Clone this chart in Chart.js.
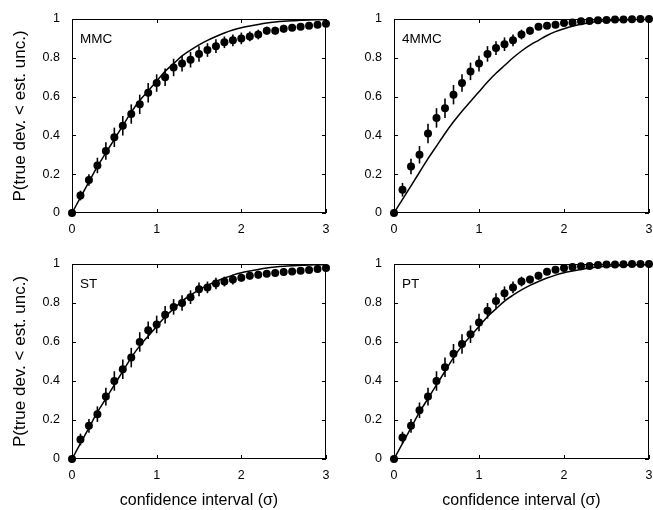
<!DOCTYPE html>
<html>
<head>
<meta charset="utf-8">
<script src="https://cdn.jsdelivr.net/npm/chart.js@4/dist/chart.umd.min.js"></script>
<style>
  body { margin: 0; background: #fff; }
  #wrap { position: relative; width: 653px; height: 510px; }
  canvas { position: absolute; }
</style>
</head>
<body>
<div id="wrap">
  <canvas id="c1" width="330" height="245" style="left:0;top:0"></canvas>
  <canvas id="c2" width="320" height="245" style="left:333px;top:0"></canvas>
  <canvas id="c3" width="330" height="265" style="left:0;top:245px"></canvas>
  <canvas id="c4" width="320" height="265" style="left:333px;top:245px"></canvas>
</div>
<script>
// confidence interval in units of sigma
const sigma = [0, 0.1, 0.2, 0.3, 0.4, 0.5, 0.6, 0.7, 0.8, 0.9, 1.0,
  1.1, 1.2, 1.3, 1.4, 1.5, 1.6, 1.7, 1.8, 1.9, 2.0,
  2.1, 2.2, 2.3, 2.4, 2.5, 2.6, 2.7, 2.8, 2.9, 3.0];

const xTicks = [0, 1, 2, 3];
const yTicks = [0, 0.2, 0.4, 0.6, 0.8, 1];

// expected curves
const gaussCurve = [0, 0.08, 0.16, 0.24, 0.31, 0.38, 0.45, 0.52, 0.58, 0.63, 0.68,
  0.73, 0.77, 0.81, 0.84, 0.867, 0.89, 0.91, 0.928, 0.943, 0.955,
  0.964, 0.972, 0.979, 0.984, 0.988, 0.991, 0.993, 0.995, 0.996, 0.997];
const fourCurve = [0, 0.07, 0.14, 0.21, 0.28, 0.345, 0.41, 0.47, 0.525, 0.575, 0.625,
  0.675, 0.72, 0.76, 0.80, 0.835, 0.865, 0.89, 0.915, 0.935, 0.95,
  0.963, 0.973, 0.981, 0.987, 0.991, 0.994, 0.996, 0.998, 0.999, 1.0];

// measured fractions and their error bars
const mmcP = [0, 0.09, 0.17, 0.245, 0.32, 0.39, 0.45, 0.51, 0.56, 0.62, 0.67,
  0.70, 0.75, 0.77, 0.79, 0.82, 0.84, 0.86, 0.88, 0.89, 0.90,
  0.91, 0.92, 0.94, 0.94, 0.95, 0.955, 0.96, 0.965, 0.97, 0.975];
const mmcErr = [0, 0.025, 0.03, 0.04, 0.045, 0.05, 0.05, 0.05, 0.05, 0.05, 0.045,
  0.045, 0.045, 0.04, 0.04, 0.04, 0.035, 0.035, 0.03, 0.03, 0.03,
  0.025, 0.025, 0.02, 0.02, 0.02, 0.015, 0.015, 0.015, 0.01, 0.01];

const fourP = [0, 0.12, 0.24, 0.30, 0.41, 0.49, 0.54, 0.61, 0.67, 0.73, 0.77,
  0.82, 0.85, 0.87, 0.89, 0.92, 0.94, 0.96, 0.965, 0.97, 0.98,
  0.982, 0.988, 0.99, 0.993, 0.995, 0.997, 0.998, 0.999, 1.0, 1.0];
const fourErr = [0, 0.035, 0.04, 0.045, 0.05, 0.05, 0.05, 0.05, 0.045, 0.045, 0.04,
  0.04, 0.035, 0.035, 0.03, 0.025, 0.02, 0.015, 0.015, 0.01, 0.01,
  0.01, 0.008, 0.005, 0.005, 0.005, 0.003, 0.003, 0.002, 0.002, 0.002];

const stP = [0, 0.10, 0.17, 0.23, 0.32, 0.40, 0.46, 0.52, 0.60, 0.66, 0.69,
  0.74, 0.78, 0.80, 0.83, 0.87, 0.88, 0.90, 0.91, 0.92, 0.93,
  0.94, 0.945, 0.95, 0.954, 0.959, 0.962, 0.966, 0.969, 0.974, 0.98];
const stErr = [0, 0.03, 0.035, 0.04, 0.045, 0.05, 0.05, 0.05, 0.05, 0.045, 0.045,
  0.045, 0.04, 0.04, 0.035, 0.035, 0.03, 0.03, 0.025, 0.025, 0.02,
  0.02, 0.02, 0.015, 0.015, 0.015, 0.01, 0.01, 0.01, 0.01, 0.01];

const ptP = [0, 0.11, 0.17, 0.25, 0.32, 0.40, 0.47, 0.54, 0.59, 0.64, 0.70,
  0.76, 0.81, 0.85, 0.88, 0.91, 0.92, 0.94, 0.96, 0.97, 0.98,
  0.985, 0.988, 0.99, 0.995, 0.997, 0.998, 0.999, 1.0, 1.0, 1.0];
const ptErr = [0, 0.03, 0.035, 0.04, 0.045, 0.05, 0.05, 0.05, 0.05, 0.045, 0.045,
  0.04, 0.04, 0.035, 0.03, 0.025, 0.02, 0.02, 0.015, 0.01, 0.01,
  0.008, 0.005, 0.005, 0.004, 0.003, 0.002, 0.002, 0.001, 0.001, 0.001];

const FONT = '"Liberation Sans", Arial, Helvetica, sans-serif';

// box around the plot with small inward ticks on all sides, plus the panel name
const framePlugin = {
  id: 'frame',
  afterDraw(chart, args, opts) {
    const { ctx, chartArea: a, scales: { x, y } } = chart;
    ctx.save();
    ctx.strokeStyle = '#000';
    ctx.lineWidth = 1;
    ctx.strokeRect(a.left + 0.5, a.top + 0.5, a.width - 1, a.height - 1);
    ctx.beginPath();
    xTicks.forEach(v => {
      const px = Math.round(x.getPixelForValue(v)) + 0.5;
      ctx.moveTo(px, a.bottom); ctx.lineTo(px, a.bottom - 4);
      ctx.moveTo(px, a.top); ctx.lineTo(px, a.top + 4);
    });
    yTicks.forEach(v => {
      const py = Math.round(y.getPixelForValue(v)) + 0.5;
      ctx.moveTo(a.left, py); ctx.lineTo(a.left + 4, py);
      ctx.moveTo(a.right, py); ctx.lineTo(a.right - 4, py);
    });
    ctx.stroke();
    ctx.fillStyle = '#000';
    ctx.font = '13.5px ' + FONT;
    ctx.textBaseline = 'alphabetic';
    ctx.fillText(opts.text, a.left + 8, a.top + 24);
    ctx.restore();
  }
};

// vertical error bars, drawn through the chart scales
const errorBarPlugin = {
  id: 'errorBars',
  afterDatasetsDraw(chart) {
    const { ctx, scales: { x, y } } = chart;
    ctx.save();
    ctx.strokeStyle = '#000';
    ctx.lineWidth = 1.6;
    chart.data.datasets.forEach(ds => {
      if (!ds.errors) return;
      ds.data.forEach((p, i) => {
        const e = ds.errors[i];
        if (!e) return;
        const px = x.getPixelForValue(p.x);
        ctx.beginPath();
        ctx.moveTo(px, y.getPixelForValue(p.y - e));
        ctx.lineTo(px, y.getPixelForValue(Math.min(p.y + e, 1.01)));
        ctx.stroke();
      });
    });
    ctx.restore();
  }
};

function makePanel(id, name, curve, pts, errs, opt) {
  const toXY = arr => arr.map((v, i) => ({ x: sigma[i], y: v }));
  const canvas = document.getElementById(id);
  return new Chart(canvas, {
    type: 'scatter',
    data: {
      datasets: [
        {
          data: toXY(curve),
          showLine: true,
          borderColor: '#000',
          borderWidth: 1.5,
          pointRadius: 0,
          cubicInterpolationMode: 'monotone',
          order: 2
        },
        {
          data: toXY(pts),
          errors: errs,
          showLine: false,
          pointRadius: 4,
          pointHoverRadius: 4,
          backgroundColor: '#000',
          borderColor: '#000',
          borderWidth: 0,
          clip: false,
          order: 1
        }
      ]
    },
    options: {
      responsive: false,
      animation: false,
      events: [],
      layout: { padding: { top: 19, right: 3, left: 0, bottom: 0 } },
      plugins: {
        legend: { display: false },
        tooltip: { enabled: false },
        frame: { text: name }
      },
      scales: {
        x: {
          type: 'linear',
          min: 0,
          max: 3,
          afterBuildTicks: s => { s.ticks = xTicks.map(v => ({ value: v })); },
          afterFit: s => { s.height = opt.xHeight; s.paddingLeft = 0; s.paddingRight = 0; },
          grid: { display: false, drawTicks: false },
          border: { display: false },
          ticks: { color: '#000', padding: 9, maxRotation: 0, font: { size: 12.5, family: FONT },
            callback: v => String(v) },
          title: {
            display: opt.xTitle,
            text: 'confidence interval (σ)',
            color: '#000',
            padding: { top: 0, bottom: 0 },
            font: { size: 16, family: FONT }
          }
        },
        y: {
          type: 'linear',
          min: 0,
          max: 1,
          afterBuildTicks: s => { s.ticks = yTicks.map(v => ({ value: v })); },
          afterFit: s => { s.width = opt.yWidth; s.paddingTop = 0; s.paddingBottom = 0; },
          grid: { display: false, drawTicks: false },
          border: { display: false },
          ticks: { color: '#000', padding: 12, font: { size: 12.5, family: FONT },
            callback: v => String(v) },
          title: {
            display: opt.yTitle,
            text: 'P(true dev. < est. unc.)',
            color: '#000',
            padding: { top: 10, bottom: 0 },
            font: { size: 17, family: FONT }
          }
        }
      }
    },
    plugins: [framePlugin, errorBarPlugin]
  });
}

makePanel('c1', 'MMC', gaussCurve, mmcP, mmcErr, { xHeight: 32, yWidth: 72, xTitle: false, yTitle: true });
makePanel('c2', '4MMC', fourCurve, fourP, fourErr, { xHeight: 32, yWidth: 61, xTitle: false, yTitle: false });
makePanel('c3', 'ST', gaussCurve, stP, stErr, { xHeight: 51, yWidth: 72, xTitle: true, yTitle: true });
makePanel('c4', 'PT', gaussCurve, ptP, ptErr, { xHeight: 51, yWidth: 61, xTitle: true, yTitle: false });
</script>
</body>
</html>
